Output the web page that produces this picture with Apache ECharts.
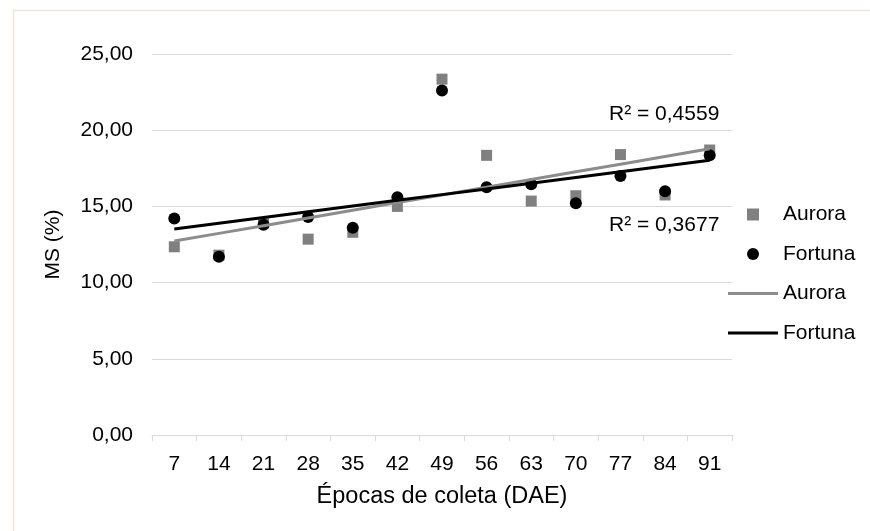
<!DOCTYPE html>
<html>
<head>
<meta charset="utf-8">
<script src="https://cdn.jsdelivr.net/npm/echarts@6/dist/echarts.min.js"></script>
<style>
html,body{margin:0;padding:0;background:#fff;}
#chart{width:870px;height:531px;}
</style>
</head>
<body>
<div id="chart"></div>
<script>
// Data
const categories = ['7','14','21','28','35','42','49','56','63','70','77','84','91'];
const auroraValues = [12.35, 11.8, 13.9, 12.85, 13.3, 15.0, 23.35, 18.35, 15.35, 15.7, 18.4, 15.75, 18.7];
const fortunaValues = [14.2, 11.7, 13.8, 14.3, 13.6, 15.6, 22.6, 16.25, 16.45, 15.2, 17.0, 16.0, 18.35];
const r2Labels = ['R² = 0,4559', 'R² = 0,3677'];
const yTicks = [0, 5, 10, 15, 20, 25];

// Linear least-squares trend over category index (as Excel does)
function linearTrend(vals) {
  const n = vals.length;
  let sx = 0, sy = 0, sxx = 0, sxy = 0;
  vals.forEach((v, i) => { const x = i + 1; sx += x; sy += v; sxx += x * x; sxy += x * v; });
  const b = (n * sxy - sx * sy) / (n * sxx - sx * sx);
  const a = (sy - b * sx) / n;
  return vals.map((_, i) => +(a + b * (i + 1)).toFixed(4));
}

const FONT = '"Liberation Sans", Arial, sans-serif';
const legendText = { fontSize: 21, color: '#000', fontFamily: FONT, lineHeight: 21 };
const chart = echarts.init(document.getElementById('chart'));
chart.setOption({
  animation: false,
  backgroundColor: '#ffffff',
  textStyle: { fontFamily: FONT },
  grid: { left: 152, right: 138, top: 54, bottom: 96 },
  legend: [
    {
      orient: 'vertical',
      left: 747,
      top: 204,
      padding: 0,
      itemWidth: 12,
      itemHeight: 12,
      itemGap: 18.5,
      textStyle: Object.assign({ padding: [0, 0, 0, 19] }, legendText),
      data: [
        { name: 'Aurora', icon: 'rect' },
        { name: 'Fortuna', icon: 'circle' }
      ]
    },
    {
      orient: 'vertical',
      left: 728,
      top: 283,
      padding: 0,
      itemWidth: 50,
      itemHeight: 3,
      itemGap: 18.5,
      textStyle: legendText,
      formatter: name => name.replace(' trend', ''),
      data: [
        { name: 'Aurora trend', icon: 'rect' },
        { name: 'Fortuna trend', icon: 'rect' }
      ]
    }
  ],
  xAxis: {
    type: 'category',
    data: categories,
    boundaryGap: true,
    name: 'Épocas de coleta (DAE)',
    nameLocation: 'middle',
    nameGap: 50,
    nameTextStyle: { fontSize: 23.5, color: '#000', fontFamily: FONT },
    axisLine: { show: true, lineStyle: { color: '#d9d9d9', width: 1 } },
    axisTick: { show: true, alignWithLabel: false, length: 6, lineStyle: { color: '#d9d9d9' } },
    axisLabel: { fontSize: 21, color: '#000', margin: 19, fontFamily: FONT },
    splitLine: { show: false }
  },
  yAxis: {
    type: 'value',
    min: yTicks[0],
    max: yTicks[yTicks.length - 1],
    interval: 5,
    name: 'MS (%)',
    nameLocation: 'middle',
    nameGap: 88,
    nameRotate: 90,
    nameTextStyle: { fontSize: 21, color: '#000', fontFamily: FONT },
    axisLine: { show: false },
    axisTick: { show: false },
    axisLabel: { fontSize: 21, color: '#000', margin: 19, fontFamily: FONT,
      formatter: v => v.toFixed(2).replace('.', ',') },
    splitLine: { show: true, lineStyle: { color: '#d9d9d9', width: 1 } }
  },
  series: [
    {
      name: 'Aurora', type: 'scatter', data: auroraValues,
      symbol: 'rect', symbolSize: 11,
      itemStyle: { color: '#808080', opacity: 1 }, z: 2
    },
    {
      name: 'Fortuna', type: 'scatter', data: fortunaValues,
      symbol: 'circle', symbolSize: 12,
      itemStyle: { color: '#000000', opacity: 1 }, z: 3
    },
    {
      name: 'Aurora trend', type: 'line', data: linearTrend(auroraValues),
      symbol: 'none', showSymbol: false,
      lineStyle: { color: '#8c8c8c', width: 3 }, itemStyle: { color: '#8c8c8c' }, z: 4
    },
    {
      name: 'Fortuna trend', type: 'line', data: linearTrend(fortunaValues),
      symbol: 'none', showSymbol: false,
      lineStyle: { color: '#000000', width: 3 }, itemStyle: { color: '#000000' }, z: 5
    }
  ],
  graphic: [
    { type: 'rect', left: 11, top: 8, silent: true, z: -10,
      shape: { width: 870, height: 540 },
      style: { fill: 'none', stroke: '#ebe7dc', lineWidth: 1.5 } },
    { type: 'text', left: 609, top: 104, z: 10,
      style: { text: r2Labels[0], font: '21px ' + FONT, fill: '#000' } },
    { type: 'text', left: 609, top: 215, z: 10,
      style: { text: r2Labels[1], font: '21px ' + FONT, fill: '#000' } }
  ]
});
</script>
</body>
</html>
